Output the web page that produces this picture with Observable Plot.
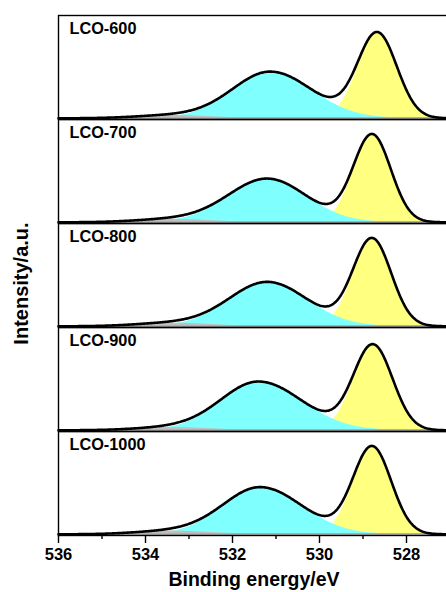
<!DOCTYPE html>
<html>
<head>
<meta charset="utf-8">
<script src="https://cdn.jsdelivr.net/npm/d3@7"></script>
<script src="https://cdn.jsdelivr.net/npm/@observablehq/plot@0.6"></script>
<style>
  html, body { margin: 0; padding: 0; background: #fff; overflow: hidden; }
  svg { overflow: hidden !important; display: block; }
</style>
</head>
<body>
<div id="chart"></div>
<script>
// ---- data (O 1s fits, intensity in a.u.) ----
const panels = ["LCO-600", "LCO-700", "LCO-800", "LCO-900", "LCO-1000"];
// lattice oxygen peak (yellow)
const yellowCenter = [528.67, 528.79, 528.79, 528.77, 528.79];
const yellowHeight = [84.9, 87.5, 87.3, 85.0, 87.4];
const yellowWidth  = [0.45, 0.43, 0.44, 0.45, 0.44];
// surface oxygen peak (cyan): width on the high-BE side and the low-BE side
const cyanCenter    = [531.13, 531.20, 531.20, 531.40, 531.36];
const cyanHeight    = [46.8, 43.8, 44.5, 48.8, 47.2];
const cyanWidthHigh = [0.88, 0.90, 0.88, 0.87, 0.86];
const cyanWidthLow  = [0.96, 0.90, 0.92, 1.00, 0.96];
// adsorbed oxygen peak (gray)
const grayCenter = [533.4, 533.4, 533.4, 533.4, 533.4];
const grayHeight = [2.9, 3.0, 3.2, 2.8, 3.2];
const grayWidth  = [0.85, 0.85, 0.85, 0.85, 0.85];
const baseline = 1.2;
const xMajorTicks = [536, 534, 532, 530, 528];
const xMinorTicks = [535, 533, 531, 529];

// ---- build curve table from the fitted peak parameters ----
const gauss = (e, c, h, s) => h * Math.exp(-((e - c) ** 2) / (2 * s * s));
const energies = d3.range(527.0, 536.0001, 0.02);
const rows = [];
panels.forEach((p, i) => {
  for (const e of energies) {
    const g = gauss(e, grayCenter[i], grayHeight[i], grayWidth[i]);
    const c = gauss(e, cyanCenter[i], cyanHeight[i], e >= cyanCenter[i] ? cyanWidthHigh[i] : cyanWidthLow[i]);
    const y = gauss(e, yellowCenter[i], yellowHeight[i], yellowWidth[i]);
    rows.push({panel: p, E: e, gray: baseline + g, cyan: baseline + c, yellow: baseline + y, env: baseline + g + c + y});
  }
});

const font = "Arial, 'Liberation Sans', sans-serif";
const chart = Plot.plot({
  width: 446,
  height: 592,
  marginTop: 14,
  marginBottom: 56,
  marginLeft: 58,
  marginRight: -3.5,
  style: {fontFamily: font, color: "black", background: "white"},
  x: {domain: [536, 527], label: null},
  y: {domain: [0, 104.4], axis: null},
  fy: {domain: panels, padding: 0, axis: null, label: null},
  marks: [
    Plot.areaY(rows, {x: "E", y1: 0, y2: "yellow", fy: "panel", fill: "#ffff80", curve: "linear"}),
    Plot.areaY(rows, {x: "E", y1: 0, y2: "cyan", fy: "panel", fill: "#80ffff", curve: "linear"}),
    Plot.areaY(rows, {x: "E", y1: 0, y2: "gray", fy: "panel", fill: "#c0c0c0", curve: "linear"}),
    Plot.ruleY(panels, {fy: d => d, y: baseline, stroke: "#b0b0b0", strokeWidth: 2.4}),
    Plot.lineY(rows, {x: "E", y: "env", fy: "panel", stroke: "black", strokeWidth: 2.6, strokeLinejoin: "round"}),
    Plot.frame({stroke: "black", strokeWidth: 1.4}),
    Plot.text(panels, {fy: d => d, text: d => d, frameAnchor: "top-left", dx: 11, dy: 7,
      fontSize: 16.3, fontWeight: "bold", fill: "black"}),
    Plot.axisX(xMajorTicks, {tickSize: 8, tickPadding: 5, fontSize: 16.5, fontWeight: "bold",
      label: null, stroke: "black", strokeWidth: 1.4, fill: "black"}),
    Plot.axisX(xMinorTicks, {tickSize: 4, tickFormat: () => "", label: null, stroke: "black", strokeWidth: 1.4})
  ]
});

const svg = d3.select(chart);
svg.append("text")
  .attr("transform", "translate(28,283.5) rotate(-90)")
  .attr("text-anchor", "middle")
  .attr("font-family", font)
  .attr("font-weight", "bold")
  .attr("font-size", 20)
  .attr("fill", "black")
  .text("Intensity/a.u.");
svg.append("text")
  .attr("x", 254)
  .attr("y", 586)
  .attr("text-anchor", "middle")
  .attr("font-family", font)
  .attr("font-weight", "bold")
  .attr("font-size", 19.5)
  .attr("fill", "black")
  .text("Binding energy/eV");

document.getElementById("chart").appendChild(chart);
</script>
</body>
</html>
